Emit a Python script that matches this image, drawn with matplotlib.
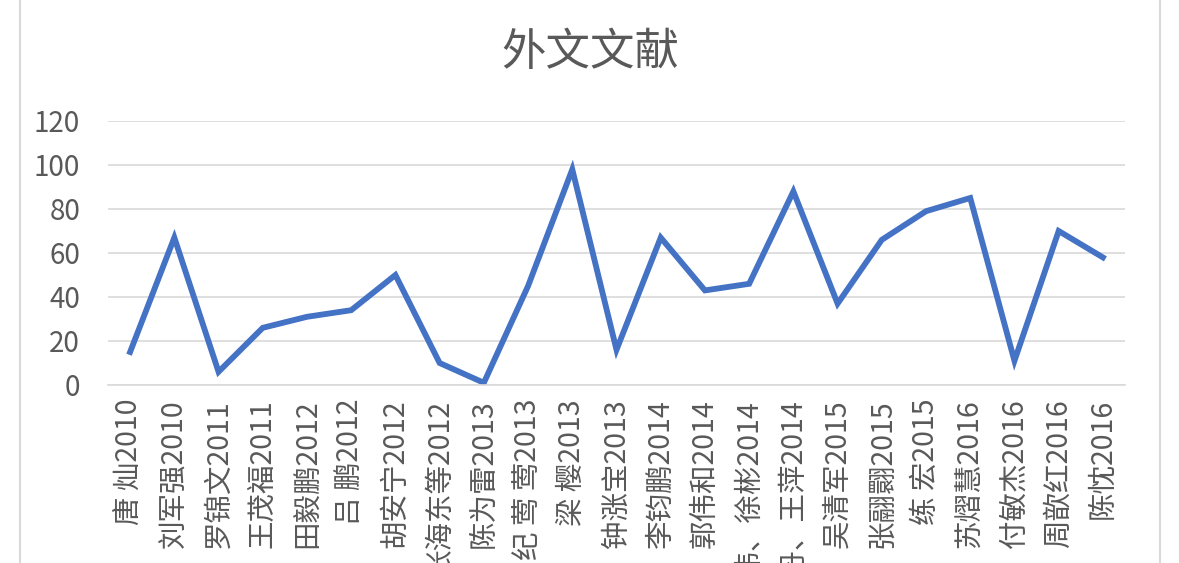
import matplotlib.pyplot as plt
from matplotlib.lines import Line2D

plt.rcParams['font.family'] = ['Noto Sans CJK SC', 'DejaVu Sans']

# 数据
authors = ['唐 灿2010', '刘军强2010', '罗锦文2011', '王茂福2011', '田毅鹏2012',
           '吕 鹏2012', '胡安宁2012', '张海东等2012', '陈为雷2013', '纪 莺 莺2013',
           '梁 樱2013', '钟涨宝2013', '李钧鹏2014', '郭伟和2014', '陈伟、徐彬2014',
           '刘丹、王萍2014', '吴清军2015', '张翮翾2015', '练 宏2015', '苏熠慧2016',
           '付敏杰2016', '周歆红2016', '陈忱2016']
counts = [15, 67, 6, 26, 31, 34, 50, 10, 1, 45, 98, 16, 67, 43, 46, 88,
          37, 66, 79, 85, 11, 70, 58]
yticks = [0, 20, 40, 60, 80, 100, 120]

text_color = '#595959'

fig = plt.figure(figsize=(11.79, 5.63), dpi=100)
ax = fig.add_axes([108 / 1179, 1 - 385 / 563, 1017 / 1179, 264 / 563])

x = range(len(authors))
ax.plot(x, counts, color='#4472C4', linewidth=4.2, solid_joinstyle='miter')

ax.set_xlim(-0.5, len(authors) - 0.5)
ax.set_ylim(0, 120)
ax.set_yticks(yticks)
ax.set_xticks(list(x))
ax.set_xticklabels(authors, rotation=90, fontsize=20.5, color=text_color, va='top')
ax.tick_params(axis='y', labelsize=20, colors=text_color, length=0, pad=20)
ax.tick_params(axis='x', length=0, pad=10)

ax.grid(axis='y', color='#D9D9D9', linewidth=1.2)
ax.set_axisbelow(True)
for side in ['top', 'right', 'left']:
    ax.spines[side].set_visible(False)
ax.spines['bottom'].set_color('#D9D9D9')
ax.spines['bottom'].set_linewidth(1.2)

fig.text(590 / 1179, 1 - 52 / 563, '外文文献', ha='center', va='center',
         fontsize=32, color=text_color)

# 图表边框
fig.add_artist(Line2D([20 / 1179, 20 / 1179], [0, 1], color='#D9D9D9', linewidth=1.5))
fig.add_artist(Line2D([1160 / 1179, 1160 / 1179], [0, 1], color='#D9D9D9', linewidth=1.5))

fig.savefig('out.png', dpi=100)
